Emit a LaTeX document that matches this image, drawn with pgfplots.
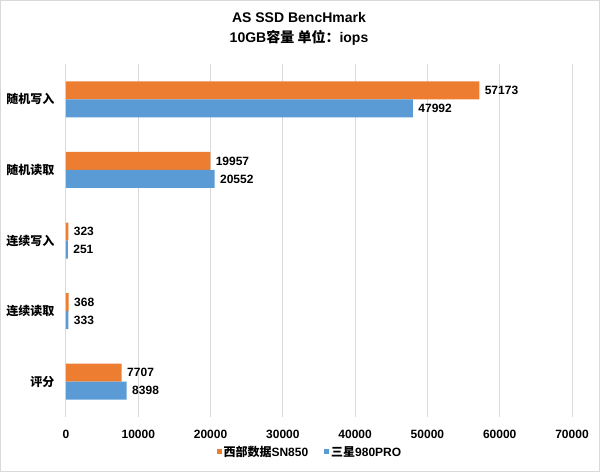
\documentclass[border=0pt]{standalone}
\usepackage{pgfplots}
\pgfplotsset{compat=1.18}
\usepackage{fontspec}
\setmainfont{Liberation Sans}
\newfontfamily\cjk{Noto Sans CJK SC}

\definecolor{wdorange}{HTML}{ED7D31}
\definecolor{ssblue}{HTML}{5B9BD5}
\definecolor{gridgray}{HTML}{D9D9D9}

\pgfplotsset{
  /pgf/number format/1000 sep={},
  /pgf/number format/assume math mode=true,
}

\begin{document}
\begin{tikzpicture}
\begin{axis}[
  scale only axis,
  width=506pt, height=353pt,
  xbar=0pt, bar width=18pt,
  xmin=0, xmax=70000,
  ymin=-0.5, ymax=4.5,
  ytick={0,1,2,3,4},
  yticklabels={{\cjk 评分},{\cjk 连续读取},{\cjk 连续写入},{\cjk 随机读取},{\cjk 随机写入}},
  xtick={0,10000,...,70000},
  scaled x ticks=false,
  xmajorgrids=true,
  grid style={gridgray, line width=1pt},
  axis line style={draw=none},
  major tick length=0pt,
  tick label style={font=\fontsize{12}{14}\selectfont\bfseries},
  xticklabel style={anchor=center, yshift=-17pt},
  yticklabel style={anchor=east, xshift=-8pt},
  nodes near coords,
  nodes near coords style={anchor=west, xshift=2pt, font=\fontsize{12}{14}\selectfont\bfseries, text=black},
  legend style={at={(0.482,-0.099)}, anchor=center, draw=none, fill=none,
    legend columns=2, font=\fontsize{12}{14}\selectfont\bfseries,
    /tikz/every even column/.append style={column sep=14pt}},
  legend image code/.code={\fill[#1] (0pt,-2.5pt) rectangle (5pt,2.5pt);},
]
\addplot[fill=wdorange, draw=none, bar shift=9pt] coordinates {
  (7707,0) (368,1) (323,2) (19957,3) (57173,4)
};
\addlegendentry{{\cjk 西部数据}SN850}
\addplot[fill=ssblue, draw=none, bar shift=-9pt] coordinates {
  (8398,0) (333,1) (251,2) (20552,3) (47992,4)
};
\addlegendentry{{\cjk 三星}980PRO}
\end{axis}
\begin{scope}[x=1pt,y=1pt,shift={(-66pt,-55pt)}]
\node[font=\fontsize{14}{16}\selectfont\bfseries] at (299,455) {AS SSD BencHmark};
\node[font=\fontsize{14}{16}\selectfont\bfseries] at (299,434) {10GB{\cjk 容量 单位：}iops};
\draw[gridgray, line width=1.5pt] (0.75,0.75) rectangle (599.25,471.25);
\end{scope}
\pgfresetboundingbox
\useasboundingbox (-66pt,-55pt) rectangle (534pt,417pt);
\end{tikzpicture}
\end{document}
